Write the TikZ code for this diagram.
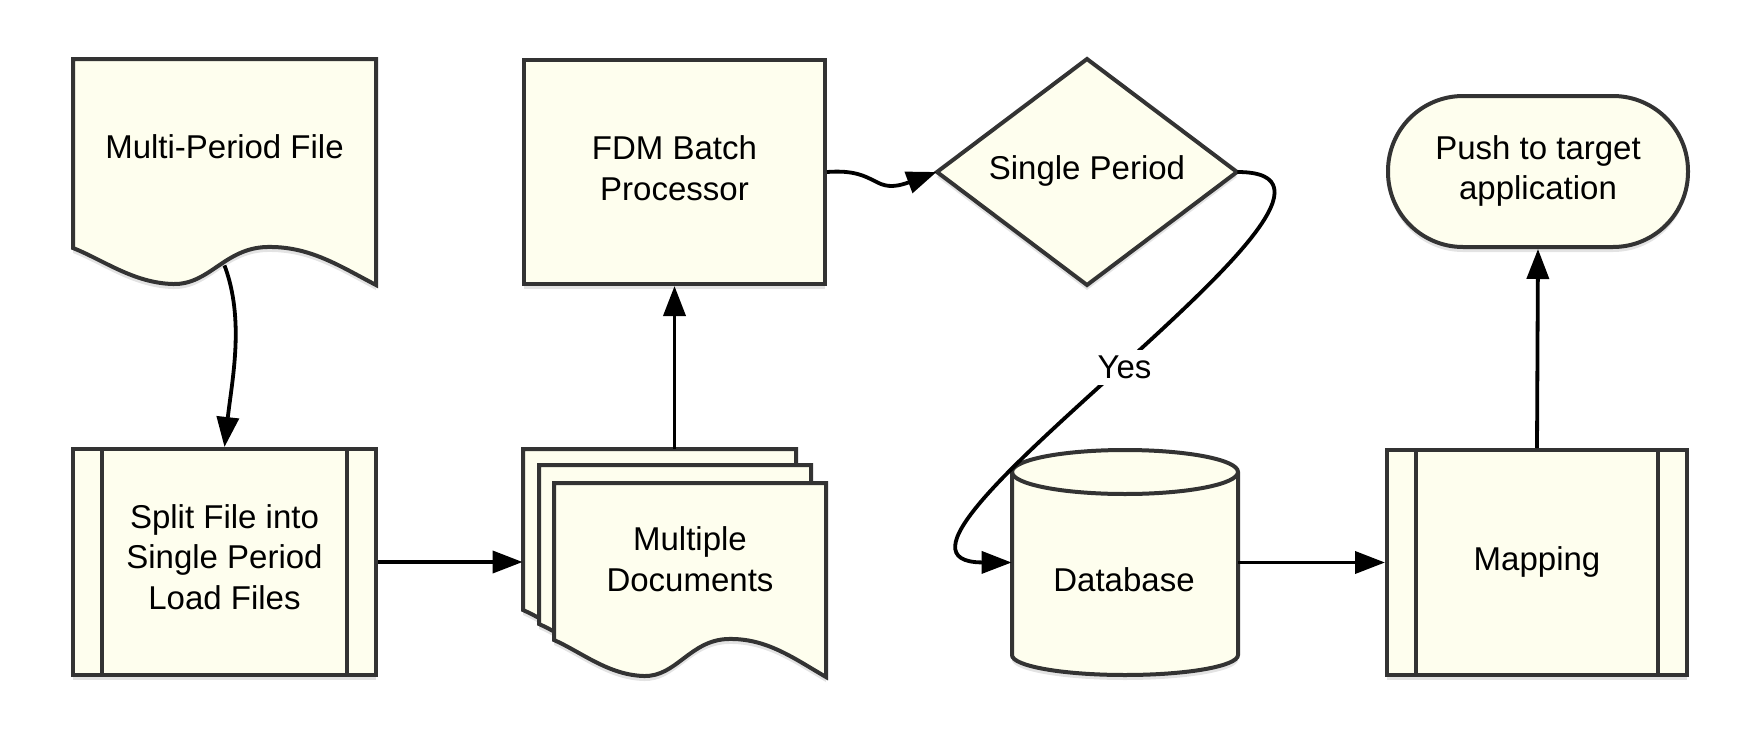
\documentclass[tikz,border=0pt]{standalone}
\usepackage{fontspec}
\setmainfont{Liberation Sans}
\usetikzlibrary{arrows.meta,shadows}
\definecolor{shapefill}{RGB}{254,254,238}
\definecolor{shapeline}{RGB}{51,51,51}
\tikzset{
  base/.style={draw=shapeline, line width=2pt, fill=shapefill,
    drop shadow={opacity=0.22, shadow xshift=0pt, shadow yshift=-2.5pt}},
  txt/.style={font=\fontsize{16.5}{20.25}\selectfont, align=center, inner sep=0pt},
  boxnode/.style={base, rectangle, inner sep=0pt},
  ghost/.style={rectangle, inner sep=0pt, draw=none, fill=none},
  innerline/.style={draw=shapeline, line width=2pt},
  conn/.style={line width=1.9pt, -{Triangle[length=15pt,width=11pt]}},
  yeslabel/.style={txt, fill=white, inner sep=3pt}
}
% X Y w h  (pixel units, y downward)
\newcommand\docsheet[4]{%
  \path[base] (#1,-#2) -- ({#1+#3},-#2) -- ({#1+#3},{-(#2+#4+37)})
    .. controls ({#1+0.88*#3},{-(#2+#4+18)}) and ({#1+0.78*#3},{-(#2+#4-2)}) .. ({#1+0.64*#3},{-(#2+#4-1)})
    .. controls ({#1+0.5*#3},{-(#2+#4)}) and ({#1+0.45*#3},{-(#2+#4+37)}) .. ({#1+0.33*#3},{-(#2+#4+36)})
    .. controls ({#1+0.2*#3},{-(#2+#4+35)}) and ({#1+0.1*#3},{-(#2+#4+12)}) .. (#1,{-(#2+#4)}) -- cycle;}
\begin{document}
\begin{tikzpicture}[x=0.5pt,y=0.5pt]
\useasboundingbox (0,0) rectangle (1763,-750);

% Multi-Period File (document)
\docsheet{73}{59}{303}{189}
\node[ghost, minimum width=151.5pt, minimum height=103pt] (mpf) at (224.5,-162) {};
\node[txt] (mpftext) at (224.5,-147) {Multi-Period File};

% Split process
\node[boxnode, minimum width=151.5pt, minimum height=113pt] (split) at (224.5,-562) {};
\draw[innerline] ([xshift=15.5pt]split.north west) -- ([xshift=15.5pt]split.south west);
\draw[innerline] ([xshift=-15.5pt]split.north east) -- ([xshift=-15.5pt]split.south east);
\node[txt] (splittext) at (224.5,-557) {Split File into\\Single Period\\Load Files};

% Multiple documents
\docsheet{523}{449}{273}{161}
\docsheet{539}{465}{272}{159}
\docsheet{554}{483}{272}{157}
\node[ghost, minimum width=151.5pt, minimum height=113pt] (md) at (674.5,-562) {};
\node[txt] (mdtext) at (690,-559) {Multiple\\Documents};

% FDM Batch Processor
\node[boxnode, minimum width=150.5pt, minimum height=112pt] (fdm) at (674.5,-172) {};
\node[txt] (fdmtext) at (674.5,-168) {FDM Batch\\Processor};

% Single Period decision
\path[base] (1087,-59) -- (1237,-172) -- (1087,-285) -- (937,-172) -- cycle;
\node[ghost, minimum width=150pt, minimum height=113pt] (sp) at (1087,-172) {};
\node[txt] (sptext) at (1087,-171) {Single Period};

% Database
\path[base] (1012,-472) -- (1012,-655) arc[start angle=180,end angle=360,x radius=113,y radius=20]
  -- (1238,-472) arc[start angle=0,end angle=180,x radius=113,y radius=22] -- cycle;
\draw[innerline] (1012,-472) arc[start angle=180,end angle=360,x radius=113,y radius=22];
\node[ghost, minimum width=113pt, minimum height=112.5pt] (db) at (1125,-562.5) {};
\node[txt] (dbtext) at (1124,-580) {Database};

% Mapping process
\node[boxnode, minimum width=150pt, minimum height=112.5pt] (map) at (1537,-562.5) {};
\draw[innerline] ([xshift=15.5pt]map.north west) -- ([xshift=15.5pt]map.south west);
\draw[innerline] ([xshift=-15.5pt]map.north east) -- ([xshift=-15.5pt]map.south east);
\node[txt] (maptext) at (1537,-561.5) {Mapping};

% Push terminator
\node[boxnode, rounded corners=37.5pt, minimum width=150pt, minimum height=75.5pt] (push) at (1538,-171.5) {};
\node[txt] (pushtext) at (1538,-171) {Push to target\\application};

% Connectors
\draw[conn] (mpf.south) .. controls (245,-320) and (232,-380) .. (split.north);
\draw[conn] (split.east) -- (md.west);
\draw[conn] (md.north) -- (fdm.south);
\draw[conn] (fdm.east) .. controls (880,-168) and (872,-196) .. (sp.west);
\draw[conn] (sp.east) .. controls (1427,-172) and (822,-562) .. node[yeslabel, pos=0.5] {Yes} (db.west);
\draw[conn] (db.east) -- (map.west);
\draw[conn] (map.north) -- (push.south);
\end{tikzpicture}
\end{document}
